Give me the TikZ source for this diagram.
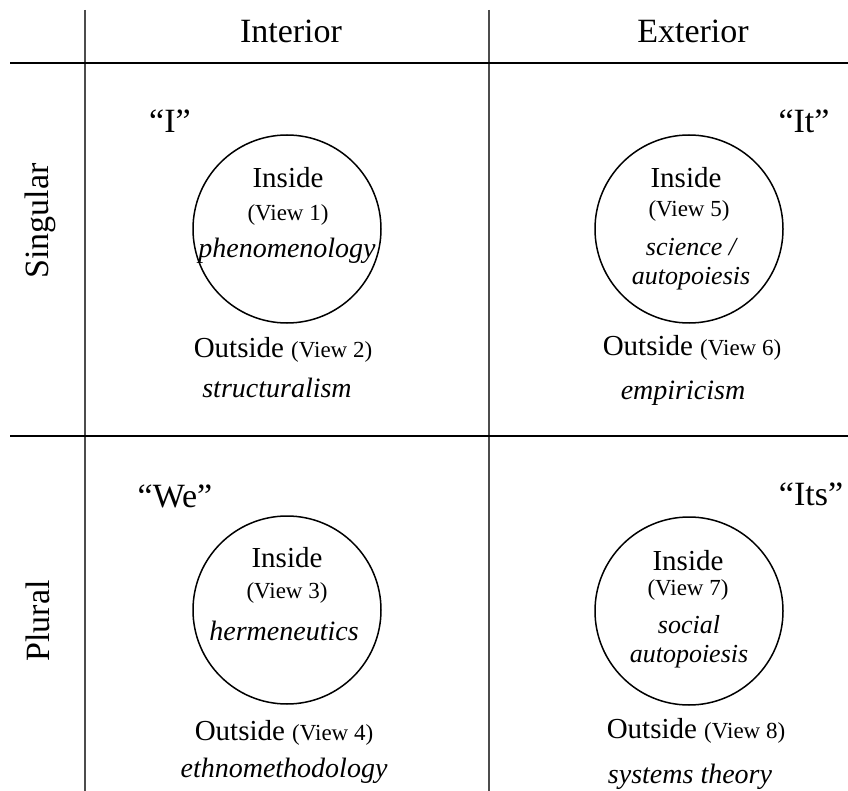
\documentclass[tikz,border=0pt]{standalone}
\usepackage{fontspec}
\setmainfont{Liberation Serif}
\begin{document}
\begin{tikzpicture}[x=1pt,y=-1pt,
  big/.style={anchor=base,font=\fontsize{34}{40}\selectfont},
  mid/.style={anchor=base,font=\fontsize{29}{34}\selectfont},
  small/.style={anchor=base,font=\fontsize{23}{27}\selectfont},
  ital/.style={anchor=base,inner sep=0pt,font=\fontsize{28}{33}\selectfont\itshape},
  pair/.style={anchor=center,align=center,inner sep=0pt,font=\fontsize{26}{29}\selectfont\itshape},
  view/.style={draw,circle,line width=1.5pt,minimum size=188pt,inner sep=0pt}]
\useasboundingbox (0,0) rectangle (848,791);
% grid
\path[draw,line width=1.8pt,black!70] (85,10) -- (85,791);
\path[draw,line width=1.8pt,black!70] (489,10) -- (489,791);
\path[draw,line width=1.5pt] (10,63) -- (848,63);
\path[draw,line width=1.5pt] (10,436) -- (848,436);
% headers
\node[big] (int) at (291,43) {Interior};
\node[big] (ext) at (693,43) {Exterior};
\node[big,rotate=90] (sing) at (48,221) {Singular};
\node[big,rotate=90] (plur) at (49,621) {Plural};
% top left
\node[big] (i) at (170,133) {“I”};
\node[view] (c1) at (287,229) {};
\node[mid] (in1) at (288,188) {Inside};
\node[small] (v1) at (288,221) {(View 1)};
\node[ital] (t1) at (287,258) {phenomenology};
\node[mid] (out1) at (283,357) {Outside {\fontsize{23}{27}\selectfont(View 2)}};
\node[ital] (t2) at (277,397) {structuralism};
% top right
\node[big] (it) at (804,133) {“It”};
\node[view] (c2) at (689,229) {};
\node[mid] (in2) at (686,188) {Inside};
\node[small] (v5) at (689,217) {(View 5)};
\node[pair] (t5) at (691,264) {science /\\autopoiesis};
\node[mid] (out2) at (692,355) {Outside {\fontsize{23}{27}\selectfont(View 6)}};
\node[ital] (t6) at (683,399) {empiricism};
% bottom left
\node[big] (we) at (175,507) {“We”};
\node[view] (c3) at (287,610) {};
\node[mid] (in3) at (287,567) {Inside};
\node[small] (v3) at (287,598) {(View 3)};
\node[ital] (t3) at (284,640) {hermeneutics};
\node[mid] (out3) at (284,740) {Outside {\fontsize{23}{27}\selectfont(View 4)}};
\node[ital] (t4) at (284,777) {ethnomethodology};
% bottom right
\node[big] (its) at (811,505) {“Its”};
\node[view] (c4) at (689,611) {};
\node[mid] (in4) at (688,570) {Inside};
\node[small] (v7) at (688,595) {(View 7)};
\node[pair] (t7) at (689,642) {social\\autopoiesis};
\node[mid] (out4) at (696,738) {Outside {\fontsize{23}{27}\selectfont(View 8)}};
\node[ital] (t8) at (690,783) {systems theory};
\end{tikzpicture}
\end{document}
